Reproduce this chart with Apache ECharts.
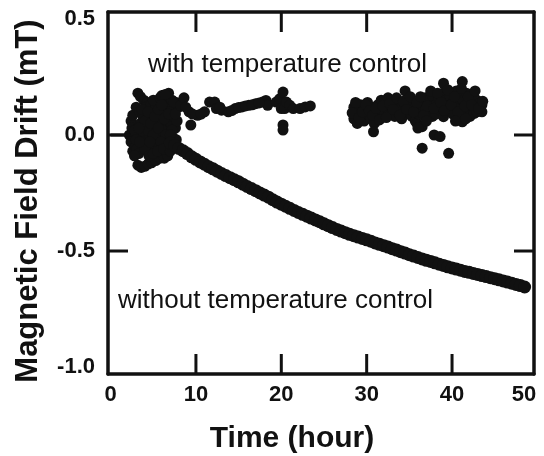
<!DOCTYPE html>
<html>
<head>
<meta charset="utf-8">
<script src="https://cdn.jsdelivr.net/npm/echarts@6/dist/echarts.min.js"></script>
<style>
html,body{margin:0;padding:0;background:#fff;}
#chart{width:544px;height:456px;}
</style>
</head>
<body>
<div id="chart"></div>
<script>
// ---- data ----
var xTickLabels = [0, 10, 20, 30, 40];
var xLastLabel = '50';
var yTickLabels = [-1.0, -0.5, 0.0, 0.5];
var xTicks = [10, 20, 30, 40];
var yTicks = [-0.5, 0.0];

var startLine = [[0, 0], [2.3, 0]];

var withControl = [
  [2.2,0.0],[2.4,0.06],[2.6,0.085],[2.5,0.03],[2.4,-0.03],[2.6,-0.07],[2.9,-0.05],[3.1,-0.06],[3.3,-0.08],
  [3.2,0.18],[3.5,0.165],[3.9,0.15],[4.3,0.14],[3.0,0.12],[3.4,0.10],
  [3.5,0.05],[3.6,0.0],[3.8,0.08],[3.9,-0.03],[4.1,0.12],[4.2,0.04],[4.3,-0.02],[4.5,0.09],[4.6,0.0],
  [4.7,0.13],[4.8,-0.05],[4.9,0.06],[5.0,0.10],[5.1,-0.02],[5.2,0.03],[5.3,0.12],[5.5,0.07],[5.6,-0.04],
  [5.7,0.15],[5.8,0.01],[5.9,0.10],[6.0,-0.06],[6.1,0.05],[6.2,0.17],[6.3,0.12],[6.4,-0.02],[6.5,0.08],
  [6.6,0.14],[6.7,0.02],[6.8,0.18],[6.9,-0.04],[7.0,0.10],[7.1,0.05],[7.2,0.15],[7.3,-0.01],[7.4,0.08],
  [7.5,0.12],[7.6,0.03],[7.7,0.14],[7.8,0.06],[8.0,0.12],
  [4.0,0.06],[4.4,0.02],[5.4,-0.01],[6.6,-0.05],[7.7,-0.02],[5.0,0.15],[5.8,0.16],[6.0,0.17],[6.4,0.175],
  [2.8,0.02],[3.0,-0.02],[3.3,0.03],[3.7,0.11],[4.0,-0.06],[4.4,0.10],[4.7,0.05],[5.2,0.08],[5.6,0.11],
  [6.0,0.02],[6.3,0.07],[6.8,0.09],[7.2,0.02],[7.6,0.09],[5.0,0.0],[5.6,0.03],[6.5,0.0],[6.0,0.13],
  [2.8,-0.09],[3.4,-0.03],[4.6,-0.03],[5.9,-0.03],[7.0,0.0],
  [3.2,-0.13],[3.6,-0.14],[4.0,-0.135],[4.4,-0.125],[4.8,-0.12],[5.3,-0.11],[5.8,-0.10],[6.3,-0.10],[6.7,-0.09],
  [4.5,-0.09],[5.0,-0.08],[5.5,-0.07],[6.2,-0.06],[7.0,-0.07],[7.4,-0.04],
  [7.4,0.142],[8.2,0.128],[8.6,0.16],[9.2,0.10],[9.4,0.043],[10.2,0.085],[11.0,0.10],[11.6,0.142],[12.2,0.142],
  [12.4,0.114],[13.0,0.107],[13.8,0.10],[14.6,0.114],[15.4,0.121],[16.2,0.128],[17.0,0.135],[17.8,0.142],
  [18.2,0.149],[18.4,0.128],[19.4,0.142],[19.8,0.156],[20.2,0.185],[20.0,0.114],[20.4,0.114],[20.2,0.043],
  [20.2,0.021],[20.6,0.142],[21.0,0.128],[21.4,0.114],[22.2,0.114],[22.8,0.121],[23.4,0.125],
  [8.8,0.12],[9.6,0.09],[10.6,0.09],[12.8,0.12],[14.2,0.105],[15.0,0.118],[15.8,0.125],[16.6,0.13],[17.4,0.138],
  [28.5,0.12],[28.5,0.07],[28.9,0.10],[28.9,0.05],[29.3,0.13],[29.3,0.08],[29.7,0.11],[29.7,0.06],
  [30.1,0.14],[30.1,0.09],[30.5,0.12],[30.5,0.07],[30.9,0.10],[30.9,0.05],[30.8,0.014],
  [31.3,0.13],[31.3,0.08],[31.7,0.15],[31.7,0.10],[32.1,0.14],[32.1,0.09],[32.5,0.16],[32.5,0.11],
  [32.9,0.15],[32.9,0.09],[33.3,0.13],[33.3,0.08],[33.7,0.14],[33.7,0.10],[34.1,0.12],[34.1,0.07],
  [34.5,0.19],[34.5,0.13],[34.5,0.09],[34.9,0.15],[34.9,0.10],[35.3,0.13],[35.3,0.08],[35.7,0.12],[35.7,0.06],
  [35.9,0.05],[36.1,0.14],[36.1,0.09],[36.5,0.13],[36.5,0.036],[36.5,-0.057],[36.9,0.16],[36.9,0.11],
  [37.3,0.15],[37.3,0.10],[37.7,0.17],[37.7,0.08],[37.9,0.0],[38.1,0.13],[38.1,0.09],[38.5,0.16],[38.5,0.11],
  [38.6,-0.007],[38.9,0.18],[38.9,0.12],[39.0,0.223],[39.0,0.079],[39.3,0.15],[39.3,0.10],[39.7,0.17],
  [39.7,0.12],[39.6,-0.079],[40.1,0.14],[40.1,0.09],[40.5,0.19],[40.5,0.13],[40.9,0.16],[40.9,0.11],
  [41.2,0.23],[41.2,0.057],[41.3,0.15],[41.3,0.09],[41.7,0.18],[41.7,0.12],[42.1,0.14],[42.1,0.08],
  [42.5,0.17],[42.5,0.11],[42.6,0.093],[42.9,0.15],[42.9,0.10],[43.2,0.137],[43.5,0.13],[43.5,0.10],
  [28.3,0.095],[28.7,0.14],[29.1,0.075],[29.5,0.10],[29.9,0.13],[30.3,0.105],[30.7,0.085],[31.1,0.115],
  [31.5,0.065],[31.9,0.125],[32.3,0.075],[32.7,0.135],[33.1,0.11],[33.5,0.16],[33.9,0.085],[34.3,0.145],
  [34.7,0.11],[35.1,0.165],[35.5,0.10],[35.9,0.14],[36.3,0.165],[36.7,0.085],[37.1,0.125],[37.5,0.19],
  [37.9,0.115],[38.3,0.18],[38.7,0.14],[39.1,0.105],[39.5,0.195],[39.9,0.13],[40.3,0.165],[40.7,0.10],
  [41.1,0.20],[41.5,0.125],[41.9,0.165],[42.3,0.13],[42.7,0.19],[43.1,0.115],[43.6,0.145],
  [36.0,0.03],[37.0,0.06],[40.4,0.06],[41.6,0.07]
];

var withoutX = [7.0,7.5,8.0,8.5,9.0,9.5,10.0,10.5,11.0,11.5,12.0,12.5,13.0,13.5,14.0,14.5,15.0,15.5,16.0,16.5,
  17.0,17.5,18.0,18.5,19.0,19.5,20.0,20.5,21.0,21.5,22.0,22.5,23.0,23.5,24.0,24.5,25.0,25.5,26.0,26.5,
  27.0,27.5,28.0,28.5,29.0,29.5,30.0,30.5,31.0,31.5,32.0,32.5,33.0,33.5,34.0,34.5,35.0,35.5,36.0,36.5,
  37.0,37.5,38.0,38.5,39.0,39.5,40.0,40.5,41.0,41.5,42.0,42.5,43.0,43.5,44.0,44.5,45.0,45.5,46.0,46.5,
  47.0,47.5,48.0,48.5];
var withoutY = [-0.035,-0.045,-0.058,-0.068,-0.080,-0.094,-0.105,-0.116,-0.126,-0.137,-0.146,-0.156,-0.166,-0.175,-0.184,-0.193,-0.202,-0.212,-0.222,-0.231,
  -0.240,-0.250,-0.259,-0.268,-0.279,-0.289,-0.298,-0.307,-0.316,-0.325,-0.334,-0.342,-0.350,-0.358,-0.366,-0.374,-0.383,-0.391,-0.399,-0.407,
  -0.414,-0.421,-0.428,-0.434,-0.440,-0.446,-0.452,-0.458,-0.465,-0.471,-0.477,-0.483,-0.490,-0.496,-0.503,-0.509,-0.516,-0.522,-0.528,-0.534,
  -0.540,-0.545,-0.551,-0.557,-0.562,-0.568,-0.573,-0.578,-0.583,-0.588,-0.592,-0.597,-0.601,-0.606,-0.610,-0.615,-0.619,-0.624,-0.629,-0.634,
  -0.639,-0.644,-0.649,-0.655];

var labelWith = 'with temperature control';
var labelWithout = 'without temperature control';
var xTitle = 'Time (hour)';
var yTitle = 'Magnetic Field Drift (mT)';

// ---- chart ----
var withoutData = withoutX.map(function (x, i) { return [x, withoutY[i]]; });
var FONT = '"Liberation Sans", Arial, Helvetica, sans-serif';
var INK = '#111';
var X_MIN = -0.3, X_MAX = 49.6, Y_MIN = -1.03, Y_MAX = 0.53;

var chart = echarts.init(document.getElementById('chart'), null, {renderer: 'canvas'});

function xAxisBase(pos) {
  return {
    type: 'value', position: pos, min: X_MIN, max: X_MAX,
    splitLine: {show: false},
    axisLine: {show: true, onZero: false, lineStyle: {color: INK, width: 3.5}},
    axisTick: {show: false},
    axisLabel: {show: false}
  };
}
function yAxisBase(pos) {
  return {
    type: 'value', position: pos, min: Y_MIN, max: Y_MAX,
    splitLine: {show: false},
    axisLine: {show: true, onZero: false, lineStyle: {color: INK, width: 3.5}},
    axisTick: {show: false},
    axisLabel: {show: false}
  };
}

var xb = xAxisBase('bottom');
xb.axisLabel = {show: true, customValues: xTickLabels, color: INK, fontFamily: FONT, fontSize: 22, fontWeight: 'bold', margin: 10};
xb.name = xTitle;
xb.nameLocation = 'middle';
xb.nameGap = 50;
xb.nameTextStyle = {color: INK, fontFamily: FONT, fontSize: 30, fontWeight: 'bold', padding: [0, 58, 0, 0]};

var yl = yAxisBase('left');
yl.axisLabel = {show: true, customValues: yTickLabels, color: INK, fontFamily: FONT, fontSize: 22, fontWeight: 'bold', margin: 13,
  formatter: function (v) { return v.toFixed(1); }};
yl.name = yTitle;
yl.nameLocation = 'middle';
yl.nameGap = 64;
yl.nameTextStyle = {color: INK, fontFamily: FONT, fontSize: 31, fontWeight: 'bold', padding: [0, 16, 0, 0]};

chart.setOption({
  animation: false,
  backgroundColor: '#fff',
  grid: {left: 108, right: 10, top: 12, bottom: 82, containLabel: false, outerBoundsMode: 'none'},
  xAxis: [xb, xAxisBase('top')],
  yAxis: [yl, yAxisBase('right')],
  series: [
    {type: 'line', data: startLine, showSymbol: false, symbol: 'none', lineStyle: {color: INK, width: 3}, silent: true},
    {type: 'scatter', data: withControl, symbol: 'circle', symbolSize: 11, itemStyle: {color: INK, opacity: 1}},
    {type: 'scatter', data: withoutData, symbol: 'circle', symbolSize: 13, itemStyle: {color: INK, opacity: 1}}
  ]
});

// inward ticks placed through the library's own axis scales
var gfx = [];
var yBottom = chart.convertToPixel({yAxisIndex: 0}, Y_MIN);
var yTop = chart.convertToPixel({yAxisIndex: 0}, Y_MAX);
var xLeft = chart.convertToPixel({xAxisIndex: 0}, X_MIN);
var xRight = chart.convertToPixel({xAxisIndex: 0}, X_MAX);
var TL = 20;
var tickStyle = {stroke: INK, lineWidth: 3};
xTicks.forEach(function (v) {
  var px = chart.convertToPixel({xAxisIndex: 0}, v);
  gfx.push({type: 'line', silent: true, shape: {x1: px, y1: yBottom, x2: px, y2: yBottom - TL}, style: tickStyle});
  gfx.push({type: 'line', silent: true, shape: {x1: px, y1: yTop, x2: px, y2: yTop + TL}, style: tickStyle});
});
yTicks.forEach(function (v) {
  var py = chart.convertToPixel({yAxisIndex: 0}, v);
  gfx.push({type: 'line', silent: true, shape: {x1: xLeft, y1: py, x2: xLeft + TL, y2: py}, style: tickStyle});
  gfx.push({type: 'line', silent: true, shape: {x1: xRight, y1: py, x2: xRight - TL, y2: py}, style: tickStyle});
});
gfx.push({type: 'text', left: 148, top: 52, style: {text: labelWith, fill: INK, font: '26px ' + FONT}});
gfx.push({type: 'text', left: 118, top: 288, style: {text: labelWithout, fill: INK, font: '26px ' + FONT}});
gfx.push({type: 'text', x: 524, y: 384, style: {text: xLastLabel, fill: INK, font: 'bold 22px ' + FONT, align: 'center', verticalAlign: 'top'}});
chart.setOption({graphic: gfx});
</script>
</body>
</html>
